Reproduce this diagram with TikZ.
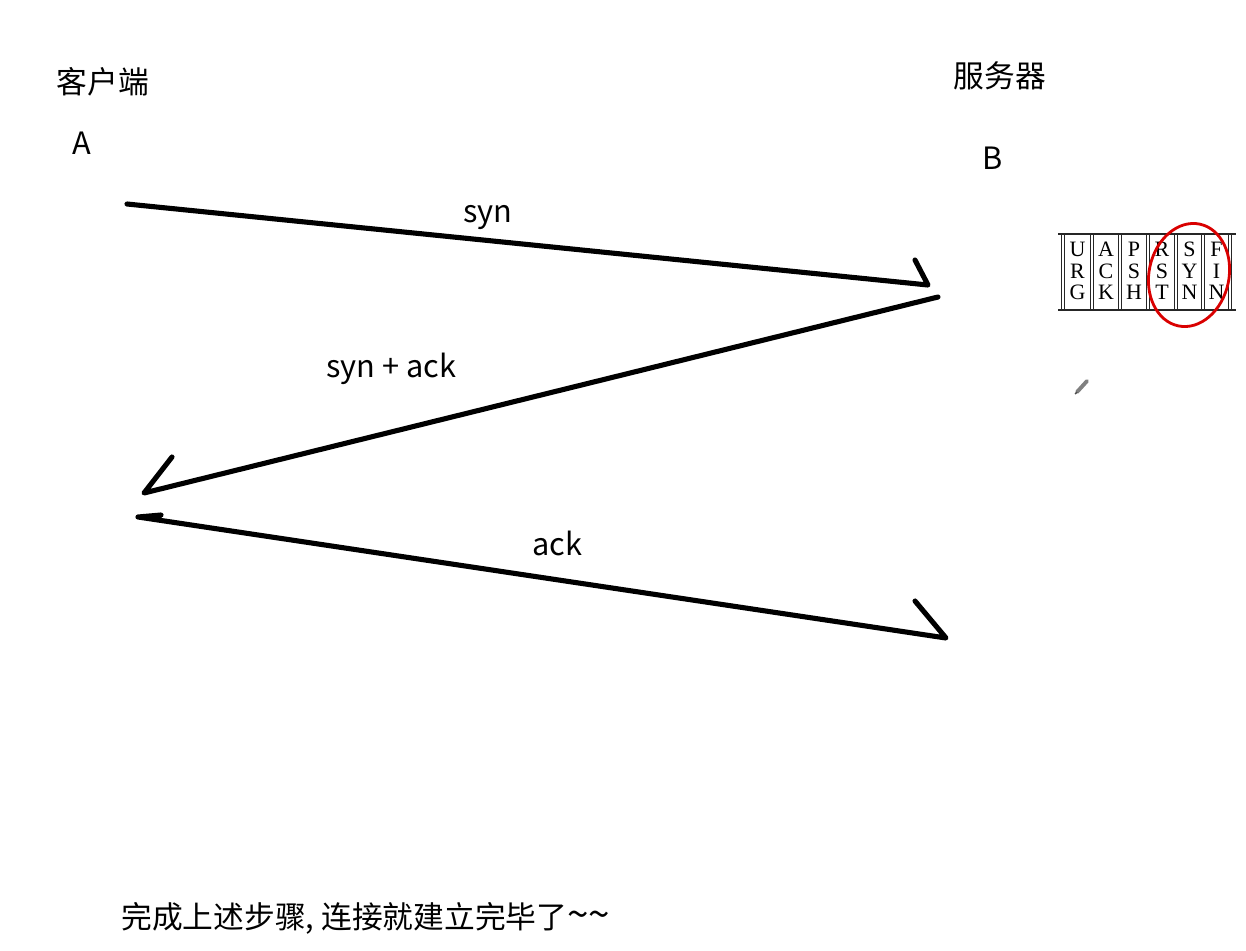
\documentclass[tikz,border=0pt]{standalone}
\usepackage{fontspec}
\setmainfont{Noto Sans CJK SC}
\newfontfamily\flagfont{Liberation Serif}
\begin{document}
\begin{tikzpicture}[x=0.02cm,y=-0.02cm,
  lbl/.style={inner sep=0pt,font=\fontsize{17.5}{20}\selectfont},
  flag/.style={inner sep=0pt,align=center,font=\flagfont\fontsize{12.5}{12.2}\selectfont},
  hand/.style={line width=2.9pt,line cap=round,line join=round},
  tbl/.style={line width=0.9pt,black!85}]
\useasboundingbox (0,0) rectangle (1246,950);
% labels
\node[lbl] (client) at (103,82) {客户端};
\node[lbl] (A) at (82,143) {A};
\node[lbl] (server) at (1000,76) {服务器};
\node[lbl] (B) at (993,158) {B};
\node[lbl] (l1) at (488,218) {syn};
\node[lbl] (l2) at (391,369) {syn + ack};
\node[lbl] (l3) at (557,543) {ack};
\node[lbl,anchor=west] (done) at (121,918) {完成上述步骤, 连接就建立完毕了{\fontsize{22}{22}\selectfont\textasciitilde\textasciitilde}};
% arrow end points
\coordinate (s1) at (127,204);
\coordinate (e1) at (928,285);
\coordinate (b1) at (915,260);
\coordinate (s2) at (938,297);
\coordinate (e2) at (144,493);
\coordinate (b2) at (172,457);
\coordinate (s3) at (138,517);
\coordinate (t3) at (161,515);
\coordinate (e3) at (946,638);
\coordinate (b3) at (915,601);
\draw[hand] (s1) -- (e1) -- (b1);
\draw[hand] (s2) -- (e2) -- (b2);
\draw[hand] (t3) -- (s3) -- (e3) -- (b3);
% TCP flag table
\draw[tbl,line width=1.4pt] (1058,234) -- (1236,234);
\draw[tbl,line width=1.4pt] (1058,310) -- (1236,310);
\foreach \x in {1063,1092,1120,1148,1176,1203,1230}{
  \draw[tbl] (\x-1.5,234) -- (\x-1.5,310);
  \draw[tbl] (\x+1.5,234) -- (\x+1.5,310);
}
\foreach \cx/\a/\b/\c [count=\i] in {1077.5/U/R/G,1106/A/C/K,1134/P/S/H,1162/R/S/T,1189.5/S/Y/N,1216.5/F/I/N}{
  \node[flag] (f\i) at (\cx,271) {\a\\\b\\\c};
}
% red circle
\draw[red!85!black,line width=1.6pt,rotate around={-12:(1189,275)}] (1189,275) ellipse [x radius=40,y radius=52];
% pencil cursor
\draw[gray,line width=2.2pt,line cap=round] (1077,392) -- (1087,381);
\draw[black!70,line width=0.8pt] (1075,394) -- (1077,392);
\end{tikzpicture}
\end{document}
